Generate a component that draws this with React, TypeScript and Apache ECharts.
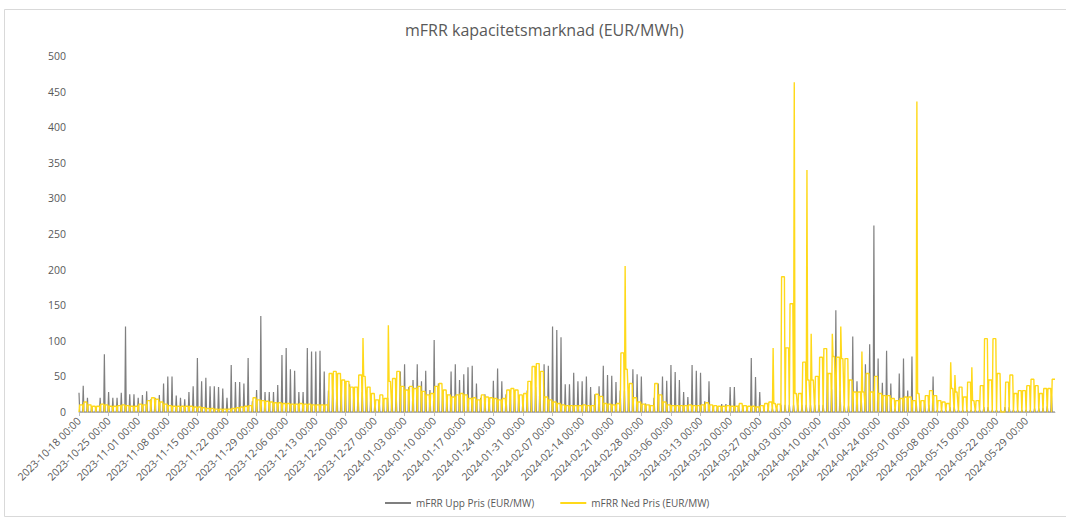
import React, { useEffect, useRef } from "react";
import * as echarts from "echarts";

// Daily values (day 0 = 2023-10-18)
const uppPris = [
  27, 37, 20, 8, 8, 20, 81, 28, 20, 20,
  27, 120, 25, 25, 20, 24, 29, 18, 20, 24,
  40, 50, 50, 23, 20, 18, 28, 36, 76, 43,
  48, 36, 36, 35, 33, 20, 66, 42, 42, 40,
  76, 15, 31, 135, 28, 28, 28, 38, 80, 90,
  60, 58, 28, 28, 90, 85, 85, 86, 57, 30,
  32, 35, 38, 38, 39, 30, 30, 28, 25, 20,
  15, 15, 15, 20, 25, 30, 57, 67, 35, 45,
  67, 43, 58, 31, 101, 40, 30, 25, 57, 67,
  45, 53, 63, 65, 40, 20, 25, 20, 44, 61,
  43, 25, 30, 25, 20, 20, 30, 35, 35, 40,
  67, 65, 120, 115, 105, 39, 39, 55, 43, 43,
  50, 35, 25, 36, 65, 52, 51, 42, 30, 30,
  30, 60, 53, 50, 12, 10, 20, 40, 50, 44,
  66, 56, 45, 28, 21, 66, 58, 55, 15, 43,
  8, 8, 11, 11, 35, 35, 9, 9, 8, 76,
  49, 28, 5, 5, 5, 5, 10, 10, 10, 10,
  10, 10, 10, 10, 10, 10, 10, 55, 32, 143,
  30, 9, 9, 106, 43, 20, 67, 95, 262, 75,
  41, 86, 40, 5, 54, 75, 30, 78, 15, 12,
  12, 10, 50, 3, 3, 3, 7, 7, 3, 3,
  3, 3, 3, 3, 7, 7, 3, 3, 3, 7,
  7, 3, 3, 3, 3, 3, 5, 5, 6, 8,
  23,
];

const nedPris = [
  10, 14, 10, 8, 8, 11, 10, 8, 8, 9,
  10, 9, 8, 8, 11, 10, 16, 20, 18, 14,
  11, 9, 8, 8, 8, 8, 8, 7, 7, 6,
  5, 5, 4, 4, 4, 4, 5, 6, 7, 8,
  9, 20, 17, 16, 15, 14, 13, 13, 12, 12,
  11, 11, 12, 11, 11, 10, 10, 10, 10, 54,
  57, 54, 45, 43, 35, 35, 52, 50, 35, 26,
  17, 24, 19, 43, 47, 57, 36, 31, 36, 33,
  36, 29, 24, 26, 36, 40, 31, 24, 21, 24,
  26, 24, 19, 20, 17, 24, 21, 20, 19, 17,
  19, 31, 33, 31, 24, 26, 43, 64, 68, 57,
  21, 17, 14, 12, 10, 9, 9, 9, 9, 10,
  9, 9, 25, 22, 12, 11, 10, 12, 83, 60,
  40, 20, 14, 11, 10, 9, 40, 24, 14, 10,
  9, 9, 9, 9, 10, 9, 9, 10, 13, 10,
  9, 8, 8, 9, 8, 8, 12, 9, 8, 8,
  7, 9, 12, 14, 12, 11, 190, 90, 152, 26,
  26, 70, 45, 45, 50, 77, 89, 54, 78, 77,
  75, 75, 45, 28, 28, 28, 54, 28, 50, 26,
  23, 23, 19, 16, 19, 21, 21, 16, 26, 16,
  23, 30, 23, 16, 14, 12, 33, 28, 35, 21,
  42, 16, 16, 37, 103, 45, 103, 54, 0, 42,
  52, 26, 30, 30, 37, 46, 37, 26, 33, 33,
  46,
];

// Short intraday peaks of the "Ned" price
const nedSpikeDays = [67, 73, 129, 164, 169, 172, 173, 178, 180, 185, 198, 206, 207, 211];
const nedSpikeValues = [104, 122, 205, 90, 463, 340, 110, 110, 120, 85, 436, 70, 52, 63];

const yTicks = [0, 50, 100, 150, 200, 250, 300, 350, 400, 450, 500];

const POINTS_PER_DAY = 6;
const TITLE = "mFRR kapacitetsmarknad (EUR/MWh)";
const UPP_NAME = "mFRR Upp Pris (EUR/MW)";
const NED_NAME = "mFRR Ned Pris (EUR/MW)";

function buildCategories(): string[] {
  const cats: string[] = [];
  for (let d = 0; d < uppPris.length; d++) {
    const dt = new Date(Date.UTC(2023, 9, 18 + d));
    const ds = dt.toISOString().slice(0, 10);
    for (let i = 0; i < POINTS_PER_DAY; i++) {
      cats.push(ds + " " + String(i * 4).padStart(2, "0") + ":00");
    }
  }
  return cats;
}

function buildUpp(): number[] {
  const out: number[] = [];
  for (let d = 0; d < uppPris.length; d++) {
    for (let i = 0; i < POINTS_PER_DAY; i++) out.push(i === 0 ? uppPris[d] : 0);
  }
  return out;
}

function buildNed(): number[] {
  const out: number[] = [];
  for (let d = 0; d < nedPris.length; d++) {
    const si = nedSpikeDays.indexOf(d);
    for (let i = 0; i < POINTS_PER_DAY; i++) {
      if (i === 0) out.push(0);
      else if (i === 1 && si >= 0) out.push(nedSpikeValues[si]);
      else out.push(nedPris[d]);
    }
  }
  return out;
}

const FONT = "'Open Sans', 'Noto Sans', sans-serif";
const TXT = "#595959";
const GREY = "#7f7f7f";
const YELLOW = "#ffd91a";

export default function App() {
  const ref = useRef<HTMLDivElement>(null);
  useEffect(() => {
    if (!ref.current) return;
    const chart = echarts.init(ref.current, null, { renderer: "svg" });
    const cats = buildCategories();
    chart.setOption({
      animation: false,
      backgroundColor: "#ffffff",
      textStyle: { fontFamily: FONT },
      title: {
        text: TITLE,
        left: 400,
        top: 17,
        textStyle: { fontSize: 16, fontWeight: "normal", color: TXT, fontFamily: FONT },
      },
      graphic: [
        {
          type: "rect",
          shape: { x: 4.5, y: 9.5, width: 1070, height: 507 },
          style: { fill: "none", stroke: "#d9d9d9", lineWidth: 1 },
          silent: true,
        },
      ],
      legend: {
        bottom: 8,
        left: 380,
        icon: "rect",
        itemWidth: 26,
        itemHeight: 2,
        itemGap: 26,
        textStyle: { fontSize: 10, color: TXT, fontFamily: FONT },
        data: [UPP_NAME, NED_NAME],
      },
      grid: { left: 79, right: 11, top: 56, bottom: 109, containLabel: false },
      xAxis: {
        type: "category",
        data: cats,
        boundaryGap: false,
        axisLine: { show: true, lineStyle: { color: "#bfbfbf", width: 1 } },
        axisTick: { show: true, interval: POINTS_PER_DAY * 7 - 1, length: 4, lineStyle: { color: "#bfbfbf" } },
        axisLabel: {
          interval: POINTS_PER_DAY * 7 - 1,
          rotate: 45,
          fontSize: 10.5,
          color: TXT,
          fontFamily: FONT,
          margin: 7,
        },
        splitLine: { show: false },
      },
      yAxis: {
        type: "value",
        min: yTicks[0],
        max: yTicks[yTicks.length - 1],
        interval: yTicks[1] - yTicks[0],
        axisLine: { show: false },
        axisTick: { show: false },
        splitLine: { show: false },
        axisLabel: { fontSize: 10.5, color: TXT, fontFamily: FONT, margin: 13 },
      },
      series: [
        {
          name: UPP_NAME,
          type: "line",
          data: buildUpp(),
          symbol: "none",
          lineStyle: { color: GREY, width: 1.2 },
          itemStyle: { color: GREY },
        },
        {
          name: NED_NAME,
          type: "line",
          data: buildNed(),
          symbol: "none",
          lineStyle: { color: YELLOW, width: 1.4 },
          itemStyle: { color: YELLOW },
        },
      ],
    });
    return () => chart.dispose();
  }, []);
  return (
    <div
      ref={ref}
      style={{ position: "absolute", left: 0, top: 0, width: 1066, height: 521 }}
    />
  );
}
